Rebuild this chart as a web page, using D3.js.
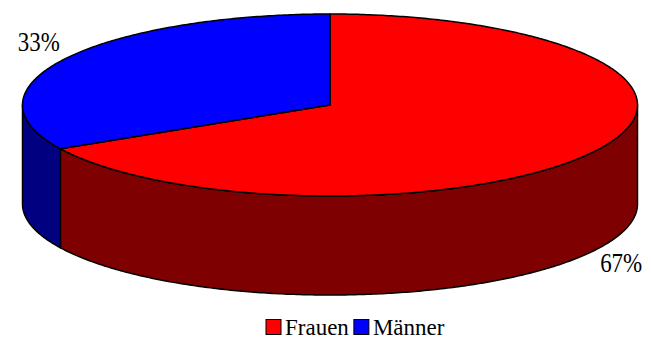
<!DOCTYPE html>
<html>
<head>
<meta charset="utf-8">
<script src="https://cdn.jsdelivr.net/npm/d3@7"></script>
<style>
  html, body { margin: 0; padding: 0; background: #fff; }
  svg { display: block; }
</style>
</head>
<body>
<svg id="chart" width="651" height="338"></svg>
<script>
// Gender split, shown as a tilted 3D pie
const categories = ["Frauen", "Männer"];
const values = [67, 33];
const valueLabels = ["67%", "33%"];
const topColors = ["#ff0000", "#0000ff"];
const sideColors = ["#7f0000", "#000080"];

const W = 651, H = 338;
const cx = 330, cy = 105;      // centre of the top face
const rx = 307.5, ry = 91;     // radii of the top ellipse
const depth = 99;              // thickness of the disc
const serif = "'Liberation Serif', 'Times New Roman', Tinos, 'DejaVu Serif', serif";

const svg = d3.select("#chart");

const pie = d3.pie().sort(null).value(d => d.value);
const arcs = pie(categories.map((c, i) => ({ name: c, value: values[i], i })));

// angle measured clockwise from 12 o'clock, h = vertical drop
function pt(a, h = 0) {
  return [cx + rx * Math.sin(a), cy - ry * Math.cos(a) + h];
}
function arcPoints(a0, a1, h = 0) {
  const n = Math.max(2, Math.ceil(Math.abs(a1 - a0) / 0.01));
  return d3.range(n + 1).map(k => pt(a0 + (a1 - a0) * k / n, h));
}
const line = d3.line();

// outer walls: only the front half (90°..270°) is visible
const front0 = Math.PI / 2, front1 = 3 * Math.PI / 2;
const walls = arcs
  .map(d => ({ d, a0: Math.max(d.startAngle, front0), a1: Math.min(d.endAngle, front1) }))
  .filter(w => w.a1 > w.a0)
  .sort((a, b) => Math.abs(((a.a0 + a.a1) / 2) - Math.PI) < Math.abs(((b.a0 + b.a1) / 2) - Math.PI) ? 1 : -1);

svg.append("g").selectAll("path")
  .data(walls)
  .join("path")
  .attr("d", w => {
    const topEdge = arcPoints(w.a0, w.a1, 0);
    const bottomEdge = arcPoints(w.a1, w.a0, depth);
    return line(topEdge.concat(bottomEdge)) + "Z";
  })
  .attr("fill", w => sideColors[w.d.data.i])
  .attr("stroke", "#000")
  .attr("stroke-width", 1.5)
  .attr("stroke-linejoin", "round");

// top faces
svg.append("g").selectAll("path")
  .data(arcs)
  .join("path")
  .attr("d", d => line([[cx, cy]].concat(arcPoints(d.startAngle, d.endAngle, 0))) + "Z")
  .attr("fill", d => topColors[d.data.i])
  .attr("stroke", "#000")
  .attr("stroke-width", 1.5)
  .attr("stroke-linejoin", "round");

// percentage labels, placed outside each slice's mid angle
svg.append("g").selectAll("text")
  .data(arcs)
  .join("text")
  .attr("x", d => cx + rx * 1.10 * Math.sin((d.startAngle + d.endAngle) / 2))
  .attr("y", d => {
    const m = (d.startAngle + d.endAngle) / 2;
    const yy = cy - ry * 1.31 * Math.cos(m);
    return yy + (Math.cos(m) < 0 ? depth : 0) + 7;
  })
  .attr("text-anchor", "middle")
  .attr("font-family", serif)
  .attr("font-size", 28)
  .attr("textLength", 42)
  .attr("lengthAdjust", "spacingAndGlyphs")
  .attr("fill", "#000")
  .text(d => valueLabels[d.data.i]);

// legend
const legend = svg.append("g").attr("class", "legend");
const sw = 15, gap = 4, itemGap = 5;
const items = legend.selectAll("g")
  .data(categories)
  .join("g");
items.append("rect")
  .attr("width", sw).attr("height", sw)
  .attr("fill", (d, i) => topColors[i])
  .attr("stroke", "#000").attr("stroke-width", 1);
items.append("text")
  .attr("x", sw + gap)
  .attr("y", sw)
  .attr("font-family", serif)
  .attr("font-size", 23)
  .attr("fill", "#000")
  .text(d => d);
let xpos = 0;
items.each(function () {
  const g = d3.select(this);
  g.attr("transform", `translate(${xpos},0)`);
  const tw = g.select("text").node().getComputedTextLength();
  xpos += sw + gap + tw + itemGap;
});
const totalW = xpos - itemGap;
legend.attr("transform", `translate(${Math.round(355 - totalW / 2)},319.5)`);
</script>
</body>
</html>
